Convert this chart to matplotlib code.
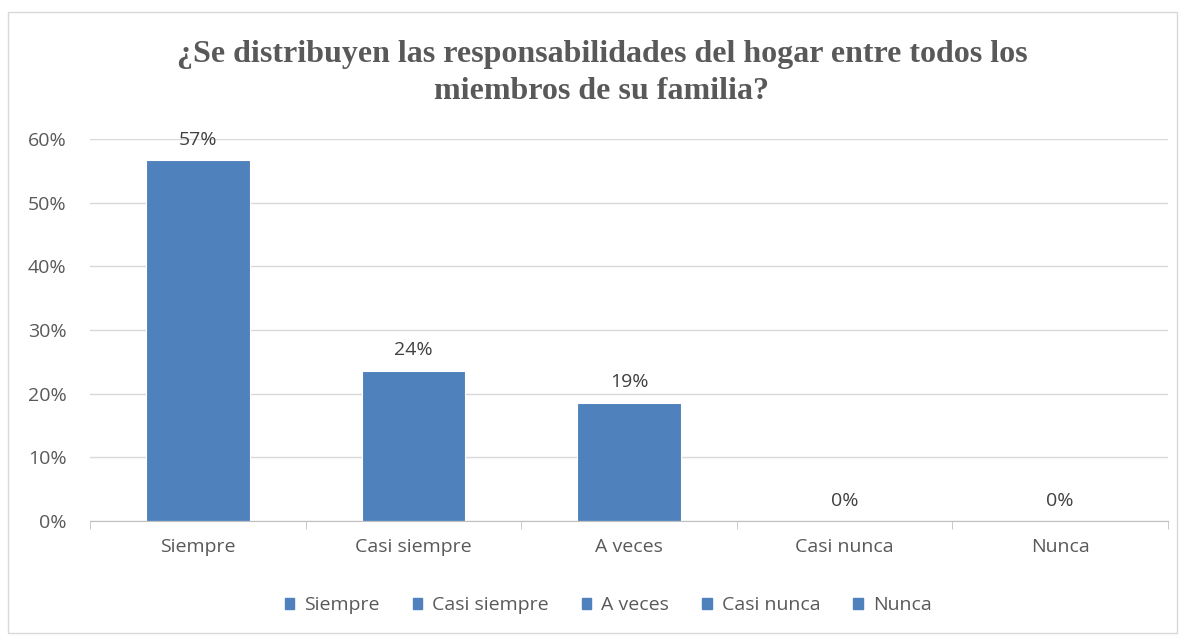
import matplotlib
matplotlib.use("Agg")
import matplotlib.pyplot as plt
from matplotlib.patches import Rectangle
import numpy as np

categories = ["Siempre", "Casi siempre", "A veces", "Casi nunca", "Nunca"]
values = [0.567, 0.236, 0.186, 0.0, 0.0]
labels = ["57%", "24%", "19%", "0%", "0%"]
yticks = [0, 0.1, 0.2, 0.3, 0.4, 0.5, 0.6]
ytick_labels = ["0%", "10%", "20%", "30%", "40%", "50%", "60%"]
title = "¿Se distribuyen las responsabilidades del hogar entre todos los\nmiembros de su familia?"

bar_color = "#4F81BD"
text_color = "#595959"
font = "Open Sans"
fs = 14

fig = plt.figure(figsize=(11.85, 6.39), dpi=100)
fig.patches.append(Rectangle((8/1185, 1-633/639), 1169/1185, 621/639, transform=fig.transFigure,
                             fill=False, edgecolor="#D9D9D9", linewidth=1))
ax = fig.add_axes([90/1185, 1-521/639, 1078/1185, 382/639])
x = np.arange(len(categories))
ax.bar(x, values, width=0.48, color=bar_color, edgecolor="white", linewidth=0.8, zorder=3)
for xi, v, l in zip(x, values, labels):
    ax.text(xi, v + 0.018, l, ha="center", va="bottom", fontsize=fs, color="#404040", family=font)

ax.set_xlim(-0.5, len(categories) - 0.5)
ax.set_ylim(0, 0.6)
ax.set_yticks(yticks)
ax.set_yticklabels(ytick_labels, fontsize=fs, color=text_color, family=font)
ax.set_xticks(x)
ax.set_xticklabels(categories, fontsize=fs, color=text_color, family=font)
ax.set_xticks(np.arange(-0.5, len(categories)), minor=True)
ax.tick_params(axis="x", which="major", length=0, pad=12)
ax.tick_params(axis="x", which="minor", length=6, color="#BFBFBF")
ax.tick_params(axis="y", length=0, pad=17)
ax.grid(axis="y", color="#D9D9D9", linewidth=1, zorder=0)
for s in ["top", "right", "left"]:
    ax.spines[s].set_visible(False)
ax.spines["bottom"].set_color("#BFBFBF")
ax.spines["bottom"].set_zorder(4)

fig.text(602/1185, 1 - 73/639, title, ha="center", va="center", fontsize=23, fontweight="bold",
         color=text_color, family="Liberation Serif", linespacing=1.35)

handles = [Rectangle((0, 0), 1, 1, color=bar_color) for _ in categories]
fig.legend(handles, categories, loc="center", bbox_to_anchor=(608/1185, 1 - 605/639), ncol=5,
           frameon=False, handlelength=0.5, handleheight=0.5, handletextpad=0.5,
           columnspacing=1.7, prop={"family": font, "size": fs}, labelcolor=text_color)

fig.savefig("out.png", dpi=100)
